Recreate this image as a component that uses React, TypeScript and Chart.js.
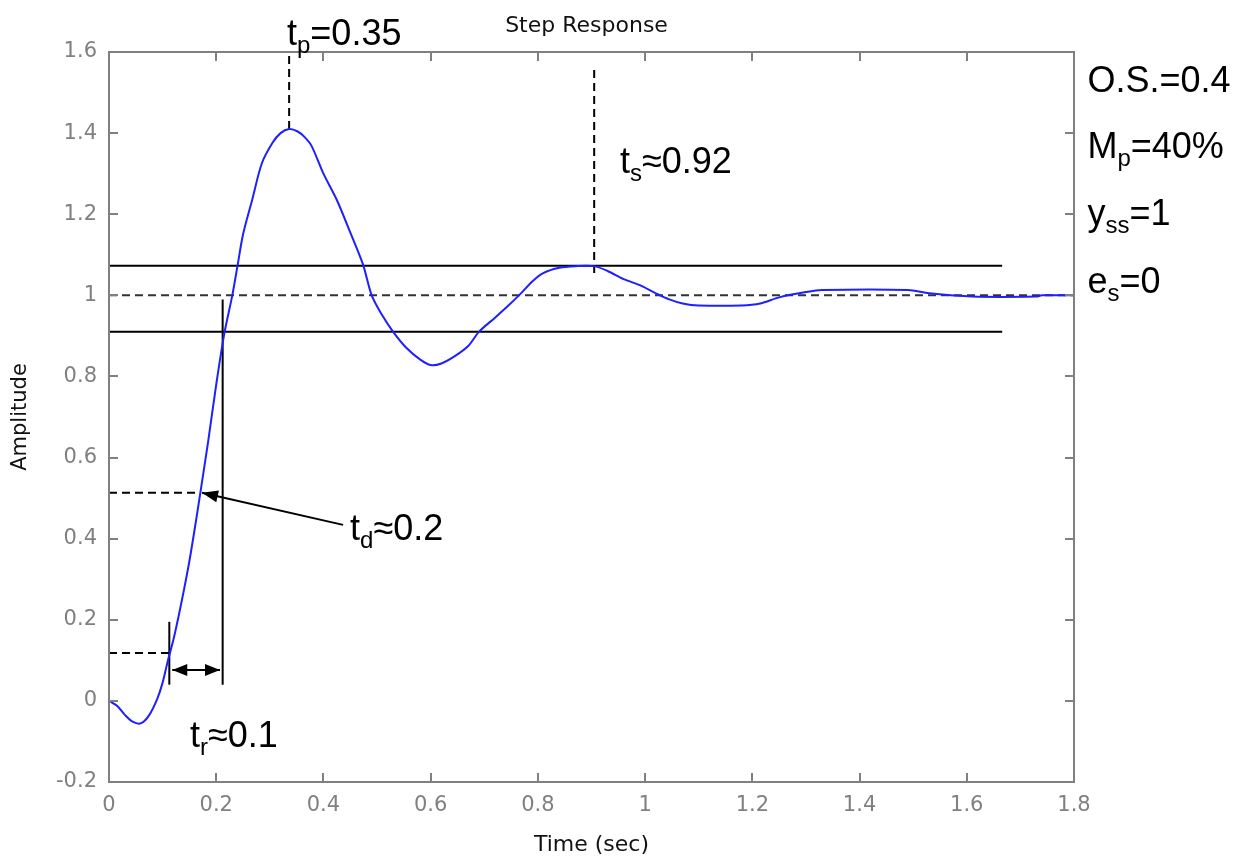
import React, { useEffect, useRef } from "react";
import { Chart, registerables } from "chart.js";

Chart.register(...registerables);

// ---- Step response samples (time in sec, amplitude) ----
const TIME = [
  0.0, 0.015, 0.03, 0.045, 0.06, 0.075, 0.09, 0.1, 0.11, 0.12, 0.13, 0.14, 0.15, 0.16, 0.17,
  0.185, 0.2, 0.215, 0.23, 0.24, 0.25, 0.267, 0.285, 0.305, 0.32, 0.336, 0.352, 0.365, 0.378,
  0.4, 0.425, 0.45, 0.474, 0.49, 0.51, 0.53, 0.555, 0.58, 0.6, 0.62, 0.645, 0.67, 0.69, 0.72,
  0.745, 0.767, 0.79, 0.81, 0.84, 0.87, 0.905, 0.93, 0.96, 0.99, 1.02, 1.045, 1.07, 1.1, 1.18,
  1.215, 1.25, 1.3, 1.33, 1.49, 1.53, 1.61, 1.73, 1.74, 1.8,
];
const AMPLITUDE = [
  0.0, -0.012, -0.035, -0.052, -0.055, -0.035, 0.005, 0.045, 0.1, 0.15, 0.21, 0.275, 0.345,
  0.425, 0.51, 0.64, 0.78, 0.905, 1.0, 1.075, 1.15, 1.235, 1.325, 1.376, 1.4, 1.41, 1.404,
  1.39, 1.368, 1.3, 1.235, 1.155, 1.075, 1.0, 0.95, 0.91, 0.87, 0.842, 0.828, 0.832, 0.85,
  0.875, 0.91, 0.945, 0.975, 1.003, 1.035, 1.055, 1.068, 1.072, 1.072, 1.06, 1.04, 1.025,
  1.005, 0.99, 0.98, 0.975, 0.975, 0.98, 0.995, 1.008, 1.013, 1.013, 1.005, 0.997, 0.997, 1.0,
  1.0,
];

// ---- Axis ticks ----
const X_TICK_VALUES = [0, 0.2, 0.4, 0.6, 0.8, 1, 1.2, 1.4, 1.6, 1.8];
const X_TICK_LABELS = ["0", "0.2", "0.4", "0.6", "0.8", "1", "1.2", "1.4", "1.6", "1.8"];
const Y_TICK_VALUES = [-0.2, 0, 0.2, 0.4, 0.6, 0.8, 1, 1.2, 1.4, 1.6];
const Y_TICK_LABELS = ["-0.2", "0", "0.2", "0.4", "0.6", "0.8", "1", "1.2", "1.4", "1.6"];

// ---- Annotation values ----
const STEADY_LEVEL = [1, 1];
const STEADY_SPAN = [0, 1.8];
const BAND_SPAN = [0, 1.666];
const BAND_UPPER = [1.073, 1.073];
const BAND_LOWER = [0.91, 0.91];
const PEAK_MARK_T = [0.336, 0.336];
const PEAK_MARK_Y = [1.41, 1.595];
const SETTLE_MARK_T = [0.905, 0.905];
const SETTLE_MARK_Y = [1.055, 1.563];
const RISE_END_T = [0.212, 0.212];
const RISE_END_Y = [0.04, 0.99];
const RISE_START_T = [0.1125, 0.1125];
const RISE_START_Y = [0.04, 0.195];
const RISE_LEVEL_T = [0, 0.1125];
const RISE_LEVEL_Y = [0.118, 0.118];
const DELAY_LEVEL_T = [0, 0.17];
const DELAY_LEVEL_Y = [0.513, 0.513];
const RISE_ARROW_T = [0.118, 0.207];
const RISE_ARROW_Y = [0.076, 0.076];
const DELAY_ARROW_T = [0.4366, 0.1735];
const DELAY_ARROW_Y = [0.434, 0.513];

// text annotations: x, y (baseline), main text, subscript, rest
const LABEL_X = [0.332, 0.953, 1.825, 1.825, 1.825, 1.825, 0.4496, 0.151];
const LABEL_Y = [1.617, 1.302, 1.5015, 1.339, 1.174, 1.006, 0.397, -0.113];
const LABEL_MAIN = ["t", "t", "O.S.=0.4", "M", "y", "e", "t", "t"];
const LABEL_SUB = ["p", "s", "", "p", "ss", "s", "d", "r"];
const LABEL_REST = ["=0.35", "≈0.92", "", "=40%", "=1", "=0", "≈0.2", "≈0.1"];

const TITLE = "Step Response";

const pts = (xs: number[], ys: number[]) => xs.map((x, i) => ({ x, y: ys[i] }));

const ANN_FONT = '"Liberation Sans", Arial, sans-serif';
const AXIS_FONT = '"DejaVu Sans", sans-serif';

function arrowHead(ctx: CanvasRenderingContext2D, tx: number, ty: number, fx: number, fy: number, len: number, half: number) {
  const a = Math.atan2(ty - fy, tx - fx);
  const bx = tx - len * Math.cos(a);
  const by = ty - len * Math.sin(a);
  ctx.beginPath();
  ctx.moveTo(tx, ty);
  ctx.lineTo(bx - half * Math.sin(a), by + half * Math.cos(a));
  ctx.lineTo(bx + half * Math.sin(a), by - half * Math.cos(a));
  ctx.closePath();
  ctx.fill();
}

const overlayPlugin = {
  id: "overlay",
  afterDraw(chart: any) {
    const { ctx, chartArea, scales } = chart;
    const { left, right, top, bottom } = chartArea;
    const xs = scales.x;
    const ys = scales.y;
    ctx.save();
    // axes box
    ctx.strokeStyle = "#808080";
    ctx.lineWidth = 2;
    ctx.setLineDash([]);
    ctx.strokeRect(left, top, right - left, bottom - top);
    // inward ticks
    ctx.beginPath();
    xs.ticks.forEach((t: any) => {
      const px = Math.round(xs.getPixelForValue(t.value));
      ctx.moveTo(px, bottom);
      ctx.lineTo(px, bottom - 9);
      ctx.moveTo(px, top);
      ctx.lineTo(px, top + 9);
    });
    ys.ticks.forEach((t: any) => {
      const py = Math.round(ys.getPixelForValue(t.value));
      ctx.moveTo(left, py);
      ctx.lineTo(left + 9, py);
      ctx.moveTo(right, py);
      ctx.lineTo(right - 9, py);
    });
    ctx.stroke();

    // arrow heads
    ctx.fillStyle = "#000";
    const ra0x = xs.getPixelForValue(RISE_ARROW_T[0]);
    const ra1x = xs.getPixelForValue(RISE_ARROW_T[1]);
    const ray = ys.getPixelForValue(RISE_ARROW_Y[0]);
    arrowHead(ctx, ra0x, ray, ra1x, ray, 15, 6);
    arrowHead(ctx, ra1x, ray, ra0x, ray, 15, 6);
    const da0x = xs.getPixelForValue(DELAY_ARROW_T[0]);
    const da0y = ys.getPixelForValue(DELAY_ARROW_Y[0]);
    const da1x = xs.getPixelForValue(DELAY_ARROW_T[1]);
    const da1y = ys.getPixelForValue(DELAY_ARROW_Y[1]);
    arrowHead(ctx, da1x, da1y, da0x, da0y, 16, 6);

    // title
    ctx.fillStyle = "#111";
    ctx.font = `22px ${AXIS_FONT}`;
    ctx.textAlign = "center";
    ctx.textBaseline = "alphabetic";
    ctx.fillText(TITLE, (left + right) / 2 - 5, 32);

    // annotation texts
    ctx.textAlign = "left";
    ctx.fillStyle = "#000";
    LABEL_X.forEach((lx, i) => {
      let px = xs.getPixelForValue(lx);
      const py = ys.getPixelForValue(LABEL_Y[i]);
      ctx.font = `36px ${ANN_FONT}`;
      ctx.fillText(LABEL_MAIN[i], px, py);
      px += ctx.measureText(LABEL_MAIN[i]).width;
      if (LABEL_SUB[i]) {
        ctx.font = `24px ${ANN_FONT}`;
        ctx.fillText(LABEL_SUB[i], px, py + 8);
        px += ctx.measureText(LABEL_SUB[i]).width;
      }
      if (LABEL_REST[i]) {
        ctx.font = `36px ${ANN_FONT}`;
        ctx.fillText(LABEL_REST[i], px, py);
      }
    });
    ctx.restore();
  },
};

export default function App() {
  const canvasRef = useRef<HTMLCanvasElement | null>(null);

  useEffect(() => {
    const canvas = canvasRef.current;
    if (!canvas) return;
    const black = "#000000";
    const dashed = [8, 5];
    const annLine = (data: any[], color: string, dash: number[] = []) => ({
      data,
      borderColor: color,
      borderWidth: 2,
      borderDash: dash,
      pointRadius: 0,
      fill: false,
      tension: 0,
    });
    const chart = new Chart(canvas, {
      type: "line",
      data: {
        datasets: [
          {
            data: pts(TIME, AMPLITUDE),
            borderColor: "#1f1fff",
            borderWidth: 2,
            pointRadius: 0,
            fill: false,
            tension: 0.3,
          } as any,
          annLine(pts(STEADY_SPAN, STEADY_LEVEL), "#333333", dashed),
          annLine(pts(BAND_SPAN, BAND_UPPER), black),
          annLine(pts(BAND_SPAN, BAND_LOWER), black),
          annLine(pts(PEAK_MARK_T, PEAK_MARK_Y), black, dashed),
          annLine(pts(SETTLE_MARK_T, SETTLE_MARK_Y), black, dashed),
          annLine(pts(RISE_END_T, RISE_END_Y), black),
          annLine(pts(RISE_START_T, RISE_START_Y), black),
          annLine(pts(RISE_LEVEL_T, RISE_LEVEL_Y), black, dashed),
          annLine(pts(DELAY_LEVEL_T, DELAY_LEVEL_Y), black, dashed),
          annLine(pts(RISE_ARROW_T, RISE_ARROW_Y), black),
          annLine(pts(DELAY_ARROW_T, DELAY_ARROW_Y), black),
        ],
      },
      options: {
        animation: false,
        responsive: false,
        devicePixelRatio: 1,
        layout: { padding: { left: 0, top: 52, right: 174, bottom: 0 } },
        plugins: { legend: { display: false }, tooltip: { enabled: false }, title: { display: false } },
        scales: {
          x: {
            type: "linear",
            min: 0,
            max: 1.8,
            afterBuildTicks: (scale: any) => {
              scale.ticks = X_TICK_VALUES.map((v) => ({ value: v }));
            },
            afterFit: (scale: any) => {
              scale.height = 83;
            },
            grid: { display: false, drawTicks: false },
            border: { display: false },
            ticks: {
              autoSkip: false,
              maxRotation: 0,
              padding: 11,
              color: "#808080",
              font: { family: AXIS_FONT, size: 21 },
              callback: (v: any) => {
                const i = X_TICK_VALUES.findIndex((t) => Math.abs(t - Number(v)) < 1e-6);
                return i >= 0 ? X_TICK_LABELS[i] : "";
              },
            },
            title: {
              display: true,
              text: "Time (sec)",
              color: "#111",
              font: { family: AXIS_FONT, size: 22 },
              padding: { top: 0, bottom: 7 },
            },
          },
          y: {
            type: "linear",
            min: -0.2,
            max: 1.6,
            afterBuildTicks: (scale: any) => {
              scale.ticks = Y_TICK_VALUES.map((v) => ({ value: v }));
            },
            afterFit: (scale: any) => {
              scale.width = 109;
            },
            grid: { display: false, drawTicks: false },
            border: { display: false },
            ticks: {
              autoSkip: false,
              padding: 12,
              color: "#808080",
              font: { family: AXIS_FONT, size: 21 },
              callback: (v: any) => {
                const i = Y_TICK_VALUES.findIndex((t) => Math.abs(t - Number(v)) < 1e-6);
                return i >= 0 ? Y_TICK_LABELS[i] : "";
              },
            },
            title: {
              display: true,
              text: "Amplitude",
              color: "#111",
              font: { family: AXIS_FONT, size: 21 },
              padding: { top: 8, bottom: 0 },
            },
          },
        },
      } as any,
      plugins: [overlayPlugin],
    });
    return () => chart.destroy();
  }, []);

  return (
    <div style={{ position: "fixed", left: 0, top: 0, width: 1248, height: 865, background: "#fff" }}>
      <canvas ref={canvasRef} width={1248} height={865} style={{ width: 1248, height: 865, display: "block" }} />
    </div>
  );
}
